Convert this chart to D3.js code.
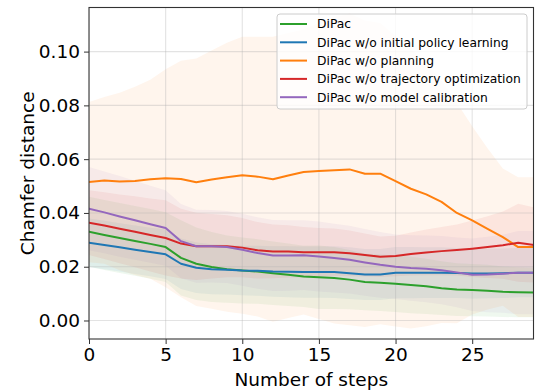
<!DOCTYPE html>
<html>
<head>
<meta charset="utf-8">
<script src="https://cdn.jsdelivr.net/npm/d3@7"></script>
<style>
  body { margin: 0; background: #fff; }
  svg { display: block; font-family: "DejaVu Sans", sans-serif; }
</style>
</head>
<body>
<svg id="chart" width="537" height="390"></svg>
<script>
// steps 0..29
const steps = d3.range(0, 30);

const seriesNames = [
  'DiPac',
  'DiPac w/o initial policy learning',
  'DiPac w/o planning',
  'DiPac w/o trajectory optimization',
  'DiPac w/o model calibration'
];
const seriesColors = ['#2ca02c', '#1f77b4', '#ff7f0e', '#d62728', '#9467bd'];

// mean chamfer distance per step
const dipac = [0.0330, 0.0318, 0.0307, 0.0296, 0.0285, 0.0273, 0.0233, 0.0211, 0.0199, 0.0191,
  0.0186, 0.0182, 0.0176, 0.0170, 0.0164, 0.0161, 0.0158, 0.0152, 0.0143, 0.0140,
  0.0137, 0.0132, 0.0127, 0.0120, 0.0115, 0.0113, 0.0111, 0.0107, 0.0105, 0.0104];
const noInitPolicy = [0.0289, 0.0281, 0.0272, 0.0263, 0.0255, 0.0246, 0.0211, 0.0196, 0.0191, 0.0189,
  0.0186, 0.0185, 0.0182, 0.0181, 0.0180, 0.0180, 0.0180, 0.0176, 0.0171, 0.0171,
  0.0178, 0.0178, 0.0178, 0.0178, 0.0177, 0.0175, 0.0175, 0.0176, 0.0178, 0.0178];
const noPlanning = [0.0515, 0.0521, 0.0517, 0.0519, 0.0525, 0.0529, 0.0526, 0.0514, 0.0524, 0.0533,
  0.0540, 0.0535, 0.0525, 0.0539, 0.0552, 0.0556, 0.0559, 0.0562, 0.0546, 0.0546,
  0.0518, 0.0490, 0.0469, 0.0441, 0.0400, 0.0372, 0.0341, 0.0310, 0.0273, 0.0273];
const noTrajOpt = [0.0364, 0.0353, 0.0341, 0.0330, 0.0318, 0.0307, 0.0286, 0.0276, 0.0276, 0.0276,
  0.0271, 0.0261, 0.0257, 0.0257, 0.0254, 0.0254, 0.0254, 0.0250, 0.0244, 0.0237,
  0.0240, 0.0247, 0.0253, 0.0258, 0.0262, 0.0267, 0.0273, 0.0280, 0.0289, 0.0281];
const noCalib = [0.0416, 0.0402, 0.0387, 0.0373, 0.0358, 0.0344, 0.0295, 0.0276, 0.0276, 0.0273,
  0.0263, 0.0251, 0.0242, 0.0242, 0.0243, 0.0238, 0.0232, 0.0226, 0.0216, 0.0207,
  0.0200, 0.0195, 0.0192, 0.0187, 0.0179, 0.0170, 0.0171, 0.0174, 0.0178, 0.0178];

// spread (std) per step, shaded as mean +/- std
const dipacStd = [0.013, 0.013, 0.013, 0.013, 0.013, 0.013, 0.014, 0.0135, 0.013, 0.0125,
  0.0123, 0.012, 0.0118, 0.0116, 0.0114, 0.0118, 0.0115, 0.011, 0.0105, 0.0105,
  0.0105, 0.0105, 0.0103, 0.010, 0.0098, 0.0097, 0.0096, 0.0094, 0.0093, 0.0092];
const noInitPolicyStd = [0.009, 0.009, 0.009, 0.009, 0.009, 0.0092, 0.0094, 0.0094, 0.0093, 0.0092,
  0.0092, 0.0093, 0.0094, 0.0095, 0.0095, 0.0095, 0.0096, 0.0096, 0.0095, 0.0095,
  0.0095, 0.0095, 0.0094, 0.0094, 0.0093, 0.0093, 0.0092, 0.0092, 0.0092, 0.0092];
const noPlanningStd = [0.0298, 0.031, 0.033, 0.035, 0.037, 0.0405, 0.044, 0.046, 0.048, 0.050,
  0.0515, 0.052, 0.053, 0.053, 0.053, 0.055, 0.057, 0.058, 0.057, 0.056,
  0.054, 0.052, 0.049, 0.045, 0.041, 0.035, 0.030, 0.0255, 0.026, 0.026];
const noTrajOptStd = [0.012, 0.0124, 0.0128, 0.0132, 0.0136, 0.014, 0.013, 0.0125, 0.012, 0.0115,
  0.011, 0.0105, 0.010, 0.0097, 0.0094, 0.009, 0.0088, 0.0085, 0.008, 0.0075,
  0.0075, 0.008, 0.0085, 0.009, 0.0095, 0.0105, 0.0115, 0.0125, 0.0145, 0.014];
const noCalibStd = [0.0155, 0.0152, 0.015, 0.0147, 0.0143, 0.014, 0.0138, 0.0136, 0.0135, 0.0134,
  0.0134, 0.0133, 0.0132, 0.0131, 0.013, 0.013, 0.0128, 0.0126, 0.0124, 0.0122,
  0.012, 0.0122, 0.0124, 0.0127, 0.013, 0.0135, 0.014, 0.0145, 0.0155, 0.0155];

const xTicks = [0, 5, 10, 15, 20, 25];
const yTicks = [0.00, 0.02, 0.04, 0.06, 0.08, 0.10];

const means = [dipac, noInitPolicy, noPlanning, noTrajOpt, noCalib];
const stds = [dipacStd, noInitPolicyStd, noPlanningStd, noTrajOptStd, noCalibStd];

const series = seriesNames.map((name, k) => ({
  name: name,
  color: seriesColors[k],
  values: steps.map((s, i) => ({ x: s, y: means[k][i], sd: stds[k][i] }))
}));

const plotLeft = 89, plotRight = 533.5, plotTop = 7.5, plotBottom = 339;

const svg = d3.select('#chart');

const xScale = d3.scaleLinear().domain([0, 29]).range([plotLeft, plotRight]);
const yScale = d3.scaleLinear().domain([-0.00688, 0.1164]).range([plotBottom, plotTop]);

svg.append('defs').append('clipPath')
  .attr('id', 'plotArea')
  .append('rect')
  .attr('x', plotLeft).attr('y', plotTop)
  .attr('width', plotRight - plotLeft).attr('height', plotBottom - plotTop);

const plot = svg.append('g').attr('clip-path', 'url(#plotArea)');

// shaded bands
const area = d3.area()
  .x((d) => xScale(d.x))
  .y0((d) => yScale(d.y - d.sd))
  .y1((d) => yScale(d.y + d.sd));

plot.selectAll('.band')
  .data(series)
  .enter()
  .append('path')
  .attr('class', 'band')
  .attr('d', (s) => area(s.values))
  .attr('fill', (s) => s.color)
  .attr('fill-opacity', 0.075);

// grid
plot.append('g')
  .selectAll('line')
  .data(xTicks)
  .enter()
  .append('line')
  .attr('x1', (d) => xScale(d)).attr('x2', (d) => xScale(d))
  .attr('y1', plotTop).attr('y2', plotBottom)
  .attr('stroke', '#b0b0b0').attr('stroke-opacity', 0.35).attr('stroke-width', 1.1);

plot.append('g')
  .selectAll('line')
  .data(yTicks)
  .enter()
  .append('line')
  .attr('x1', plotLeft).attr('x2', plotRight)
  .attr('y1', (d) => yScale(d)).attr('y2', (d) => yScale(d))
  .attr('stroke', '#b0b0b0').attr('stroke-opacity', 0.35).attr('stroke-width', 1.1);

// lines
const line = d3.line()
  .x((d) => xScale(d.x))
  .y((d) => yScale(d.y));

plot.selectAll('.series')
  .data(series)
  .enter()
  .append('path')
  .attr('class', 'series')
  .attr('d', (s) => line(s.values))
  .attr('fill', 'none')
  .attr('stroke', (s) => s.color)
  .attr('stroke-width', 2)
  .attr('stroke-linejoin', 'round')
  .attr('stroke-linecap', 'square');

// axes
const xAxis = svg.append('g')
  .attr('transform', `translate(0, ${plotBottom})`)
  .call(d3.axisBottom(xScale).tickValues(xTicks).tickFormat(d3.format('d')).tickSize(5).tickPadding(4));

const yAxis = svg.append('g')
  .attr('transform', `translate(${plotLeft}, 0)`)
  .call(d3.axisLeft(yScale).tickValues(yTicks).tickFormat(d3.format('.2f')).tickSize(5).tickPadding(4));

[xAxis, yAxis].forEach((ax) => {
  ax.select('.domain').remove();
  ax.selectAll('.tick line').attr('stroke', '#333');
  ax.selectAll('.tick text')
    .attr('fill', '#000')
    .style('font-size', '18.5px')
    .style('font-family', '"DejaVu Sans", sans-serif');
});

// spines
svg.append('rect')
  .attr('x', plotLeft).attr('y', plotTop)
  .attr('width', plotRight - plotLeft).attr('height', plotBottom - plotTop)
  .attr('fill', 'none')
  .attr('stroke', '#333')
  .attr('stroke-width', 1.1);

// axis labels
svg.append('text')
  .attr('x', (plotLeft + plotRight) / 2)
  .attr('y', 386)
  .attr('text-anchor', 'middle')
  .style('font-size', '18.5px')
  .text('Number of steps');

svg.append('text')
  .attr('transform', `translate(34, ${(plotTop + plotBottom) / 2}) rotate(-90)`)
  .attr('text-anchor', 'middle')
  .style('font-size', '18.5px')
  .text('Chamfer distance');

// legend
const legend = svg.append('g').attr('transform', 'translate(277, 14)');

legend.append('rect')
  .attr('width', 250)
  .attr('height', 95)
  .attr('rx', 3)
  .attr('fill', '#fff')
  .attr('fill-opacity', 0.8)
  .attr('stroke', '#cccccc')
  .attr('stroke-width', 1);

const items = legend.selectAll('.item')
  .data(series)
  .enter()
  .append('g')
  .attr('class', 'item')
  .attr('transform', (d, i) => `translate(0, ${10 + i * 18.3})`);

items.append('line')
  .attr('x1', 3).attr('x2', 30)
  .attr('stroke', (d) => d.color)
  .attr('stroke-width', 2);

items.append('text')
  .attr('x', 40)
  .attr('dy', '0.36em')
  .style('font-size', '12.3px')
  .text((d) => d.name);
</script>
</body>
</html>
